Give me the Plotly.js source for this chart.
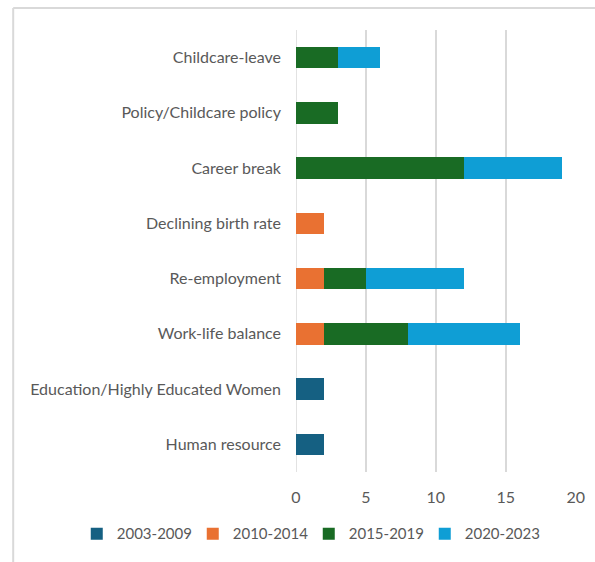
<!DOCTYPE html>
<html>
<head>
<meta charset="utf-8">
<script src="https://cdn.plot.ly/plotly-3.0.1.min.js"></script>
<style>
html,body{margin:0;padding:0;background:#fff;}
#chart{width:595px;height:562px;}
</style>
</head>
<body>
<div id="chart"></div>
<script>
const categories = ["Childcare-leave","Policy/Childcare policy","Career break","Declining birth rate","Re-employment","Work-life balance","Education/Highly Educated Women","Human resource"];
const seriesNames = ["2003-2009","2010-2014","2015-2019","2020-2023"];
const s2003_2009 = [0,0,0,0,0,0,2,2];
const s2010_2014 = [0,0,0,2,2,2,0,0];
const s2015_2019 = [3,3,12,0,3,6,0,0];
const s2020_2023 = [3,0,7,0,7,8,0,0];
const colors = ["#156082","#E97132","#196B24","#0F9ED5"];
const tickVals = [0,5,10,15,20];

const allSeries = [s2003_2009,s2010_2014,s2015_2019,s2020_2023];
const traces = allSeries.map((vals,i)=>({
  type:'bar', orientation:'h', name:seriesNames[i],
  y:categories, x:vals,
  marker:{color:colors[i], line:{width:0}},
  hoverinfo:'x+name'
}));

const font = {family:'Lato, "Open Sans", sans-serif', color:'#595959', size:16};
const legendFont = {family:'Lato, "Open Sans", sans-serif', color:'#595959', size:15};
const layout = {
  width:595, height:562,
  margin:{l:296, r:19, t:30, b:86},
  barmode:'stack', bargap:0.61,
  paper_bgcolor:'#fff', plot_bgcolor:'#fff',
  font:font,
  xaxis:{range:[0,20.02], tickvals:tickVals, showgrid:true, gridcolor:'#D9D9D9', gridwidth:1.5,
         zeroline:false, showline:false, ticks:'', ticklabelstandoff:14, tickfont:font, fixedrange:true},
  yaxis:{autorange:'reversed', showgrid:false, zeroline:false, showline:false, ticks:'',
         ticklabelstandoff:14, tickfont:font, categoryorder:'array', categoryarray:categories},
  showlegend:true,
  legend:{orientation:'h', x:-0.783, xanchor:'left', y:-0.14, yanchor:'middle',
          font:legendFont, traceorder:'normal', itemwidth:30, entrywidth:71, entrywidthmode:'pixels'},
  shapes:[
    {type:'line', xref:'paper', yref:'paper', x0:-1.01, x1:1.1, y0:1.05, y1:1.05, line:{color:'#D9D9D9', width:2}},
    {type:'line', xref:'paper', yref:'paper', x0:-1.01, x1:-1.01, y0:1.05, y1:-0.3, line:{color:'#D9D9D9', width:2}},
    {type:'line', xref:'x', yref:'paper', x0:0, x1:0, y0:0, y1:1, line:{color:'#D9D9D9', width:1.5}, layer:'below'}
  ]
};
Plotly.newPlot('chart', traces, layout, {displayModeBar:false, staticPlot:true});
</script>
</body>
</html>
